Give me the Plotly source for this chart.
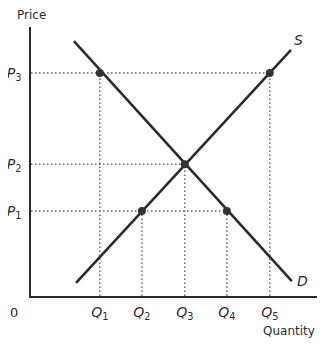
import plotly.graph_objects as go

# Quantity and price levels (axis units)
q_labels = ["Q<sub>1</sub>", "Q<sub>2</sub>", "Q<sub>3</sub>", "Q<sub>4</sub>", "Q<sub>5</sub>"]
q_values = [1.62, 2.61, 3.62, 4.61, 5.62]
p_labels = ["P<sub>1</sub>", "P<sub>2</sub>", "P<sub>3</sub>"]
p_values = [2.0, 3.1, 5.25]

# Curve endpoints
demand_x = [1.01, 6.14]
demand_y = [6.0, 0.35]
supply_x = [1.06, 6.12]
supply_y = [0.31, 5.79]

# Marked points (quantity, price)
point_q = [1.62, 5.62, 3.62, 2.61, 4.61]
point_p = [5.25, 5.25, 3.1, 2.0, 2.0]

INK = "#2b2b2b"
GUIDE = "#666"
FONT = "DejaVu Sans"


def italic_sym(label):
    # italic letter, upright subscript
    return f"<i>{label[0]}</i>{label[1:]}"


fig = go.Figure()

guide = dict(color=GUIDE, width=1.5, dash="1.5px,2.5px")
# dotted guides: horizontal from axis to the furthest point at each price
for p in p_values:
    qs = [q for q, pp in zip(point_q, point_p) if pp == p]
    fig.add_trace(go.Scatter(x=[0, max(qs)], y=[p, p], mode="lines", line=guide,
                             hoverinfo="skip", showlegend=False))
# vertical guides from each point down to the axis
for q, p in zip(point_q, point_p):
    fig.add_trace(go.Scatter(x=[q, q], y=[0, p], mode="lines", line=guide,
                             hoverinfo="skip", showlegend=False))

fig.add_trace(go.Scatter(x=demand_x, y=demand_y, mode="lines",
                         line=dict(color=INK, width=2.6), showlegend=False))
fig.add_trace(go.Scatter(x=supply_x, y=supply_y, mode="lines",
                         line=dict(color=INK, width=2.6), showlegend=False))
fig.add_trace(go.Scatter(x=point_q, y=point_p, mode="markers",
                         marker=dict(color="#333", size=8), showlegend=False))

ann = dict(showarrow=False, font=dict(family=FONT, size=14, color=INK))
small = dict(family=FONT, size=12, color=INK)
fig.add_annotation(x=supply_x[1], y=supply_y[1], text="<i>S</i>",
                   xanchor="left", yanchor="bottom", xshift=1, **ann)
fig.add_annotation(x=demand_x[1], y=demand_y[1], text="<i>D</i>",
                   xanchor="left", yanchor="middle", xshift=3, **ann)
fig.add_annotation(x=0, y=1, xref="paper", yref="paper", text="Price",
                   xanchor="center", yanchor="bottom", yshift=3,
                   showarrow=False, font=small)
fig.add_annotation(x=1, y=0, xref="paper", yref="paper", text="Quantity",
                   xanchor="right", yanchor="bottom", xshift=-8, yshift=-44,
                   showarrow=False, font=small)
fig.add_annotation(x=0, y=0, xref="paper", yref="paper", text="0",
                   xanchor="right", yanchor="top", xshift=-11, yshift=-7,
                   **{**ann, "font": dict(family=FONT, size=13, color=INK)})

# the page body adds an 8px margin, so the figure is kept inside the window
fig.update_layout(
    width=317, height=332,
    margin=dict(l=23, r=0, t=19, b=44, autoexpand=False),
    paper_bgcolor="white", plot_bgcolor="white",
    font=dict(family=FONT, size=14, color=INK),
    xaxis=dict(range=[0, 6.92], tickvals=q_values,
               ticktext=[italic_sym(t) for t in q_labels],
               showgrid=False, zeroline=False, showline=True, automargin=False,
               linecolor=INK, linewidth=1.6, ticks="", ticklabelstandoff=2),
    yaxis=dict(range=[0, 6.33], tickvals=p_values,
               ticktext=[italic_sym(t) for t in p_labels],
               showgrid=False, zeroline=False, showline=True, automargin=False,
               linecolor=INK, linewidth=1.6, ticks="", ticklabelstandoff=5),
)

fig.write_html("out.html")
